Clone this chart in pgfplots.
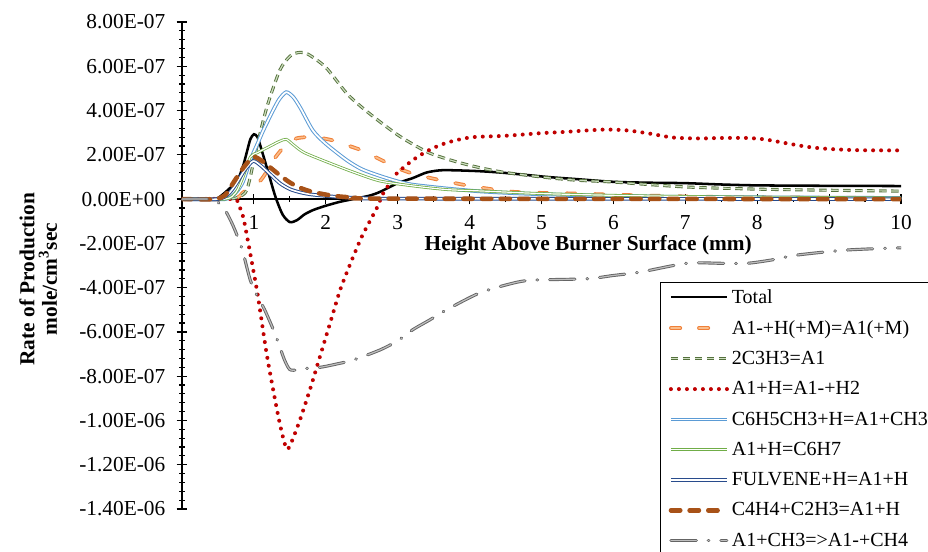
\documentclass[border=0pt]{standalone}
\usepackage{fontspec}
\setmainfont{Liberation Serif}
\usepackage{pgfplots}
\pgfplotsset{compat=1.18}

\definecolor{cTotal}{RGB}{0,0,0}
\definecolor{cOrange}{RGB}{240,128,56}
\definecolor{cOrangeIn}{RGB}{250,190,140}
\definecolor{cOlive}{RGB}{84,112,60}
\definecolor{cOliveIn}{RGB}{205,222,192}
\definecolor{cRed}{RGB}{192,0,0}
\definecolor{cLBlue}{RGB}{91,155,213}
\definecolor{cGreen}{RGB}{112,173,71}
\definecolor{cDBlue}{RGB}{40,75,140}
\definecolor{cBrown}{RGB}{168,82,24}
\definecolor{cGray}{RGB}{100,100,100}
\definecolor{cGrayIn}{RGB}{190,190,190}

\begin{document}
\begin{tikzpicture}
\begin{axis}[
  scale only axis,
  width=539.25pt, height=365.25pt,
  xmin=0, xmax=10, ymin=-1.4e-6, ymax=8e-7,
  axis x line=middle, axis y line=left,
  axis line style={line width=1.5pt,-},
  hide obscured x ticks=false, hide obscured y ticks=false,
  xtick={1,2,3,4,5,6,7,8,9,10},
  xticklabels={1,2,3,4,5,6,7,8,9,10},
  minor x tick num=1,
  ytick={-1.4e-6,-1.2e-6,-1e-6,-8e-7,-6e-7,-4e-7,-2e-7,0,2e-7,4e-7,6e-7,8e-7},
  yticklabels={-1.40E-06,-1.20E-06,-1.00E-06,-8.00E-07,-6.00E-07,-4.00E-07,-2.00E-07,0.00E+00,2.00E-07,4.00E-07,6.00E-07,8.00E-07},
  minor y tick num=4,
  scaled y ticks=false,
  tick align=center,
  major tick length=8pt, minor tick length=4pt,
  tick style={black, line width=0.9pt},
  xticklabel style={font=\fontsize{16}{19}\selectfont, yshift=-5pt},
  yticklabel style={font=\fontsize{16}{19}\selectfont, xshift=-5pt},
  xlabel={Height Above Burner Surface (mm)},
  xlabel style={at={(axis description cs:0.565,0.541)}, anchor=center,
    font=\bfseries\fontsize{16}{19}\selectfont},
  ylabel={Rate of Production\\mole/cm\textsuperscript{3}sec},
  ylabel style={at={(axis description cs:-0.2,0.472)}, anchor=center,
    rotate=0, align=center, font=\bfseries\fontsize{16}{17}\selectfont},
  legend cell align=left,
  legend style={at={(axis description cs:0.665,0.466)}, anchor=north west,
    draw=black, line width=0.8pt, fill=white,
    font=\fontsize{15}{18}\selectfont, row sep=7.3pt,
    inner xsep=6pt, inner ysep=3pt},
  legend image code/.code={\draw[#1] (0pt,0pt) -- (42pt,0pt);},
  every axis plot/.append style={smooth, tension=0.45},
]

% Total
\addplot[cTotal, line width=1.9pt] coordinates {
(0,0) (0.4,0) (0.5,0.05e-7) (0.6,0.3e-7) (0.7,0.6e-7) (0.78,0.9e-7) (0.85,1.5e-7)
(0.9,2.1e-7) (0.95,2.7e-7) (1.0,2.93e-7) (1.05,2.8e-7) (1.1,2.3e-7) (1.2,1.2e-7)
(1.3,0.1e-7) (1.4,-0.7e-7) (1.5,-1.04e-7) (1.6,-0.95e-7) (1.7,-0.7e-7) (1.82,-0.5e-7)
(2.0,-0.3e-7) (2.2,-0.12e-7) (2.38,0) (2.6,0.15e-7) (2.75,0.32e-7) (3.0,0.72e-7)
(3.21,0.95e-7) (3.4,1.2e-7) (3.59,1.3e-7) (3.8,1.3e-7) (4.14,1.26e-7) (4.5,1.18e-7)
(5.08,1.0e-7) (5.5,0.9e-7) (6.0,0.78e-7) (6.5,0.74e-7) (7.0,0.72e-7) (7.5,0.66e-7)
(8.0,0.62e-7) (9.0,0.6e-7) (10,0.59e-7)};
\addlegendentry{Total}

% A1-+H(+M)=A1(+M)
\addplot[cOrange, line width=0.8pt, double=cOrangeIn, double distance=1.2pt,
  line cap=round, dash pattern=on 7pt off 14pt] coordinates {
(0,0) (0.7,0) (0.85,0.3e-7) (0.95,0.55e-7) (1.08,0.8e-7) (1.17,1.2e-7) (1.27,1.76e-7)
(1.4,2.3e-7) (1.5,2.6e-7) (1.6,2.75e-7) (1.74,2.8e-7) (1.9,2.78e-7) (2.1,2.65e-7)
(2.29,2.44e-7) (2.5,2.2e-7) (2.75,1.8e-7) (3.0,1.4e-7) (3.21,1.15e-7) (3.5,0.92e-7)
(3.91,0.65e-7) (4.3,0.45e-7) (4.6,0.33e-7) (5.0,0.28e-7) (5.5,0.25e-7) (6.0,0.2e-7)
(7.0,0.12e-7) (8.0,0.08e-7) (10,0.05e-7)};
\addlegendentry{A1-+H(+M)=A1(+M)}

% 2C3H3=A1
\addplot[cOlive, line width=0.7pt, double=cOliveIn, double distance=0.9pt,
  dash pattern=on 5.5pt off 3.5pt] coordinates {
(0,0) (0.6,0) (0.75,0.05e-7) (0.85,0.2e-7) (0.9,0.4e-7) (0.95,1.0e-7) (1.04,2.35e-7)
(1.18,4.15e-7) (1.36,5.82e-7) (1.5,6.45e-7) (1.62,6.62e-7) (1.75,6.55e-7) (2.0,5.95e-7)
(2.29,4.78e-7) (2.5,4.15e-7) (2.75,3.5e-7) (3.0,2.9e-7) (3.2,2.5e-7) (3.45,2.07e-7)
(3.8,1.7e-7) (4.14,1.42e-7) (4.5,1.2e-7) (5.08,0.97e-7) (5.5,0.85e-7) (6.0,0.77e-7)
(7.0,0.55e-7) (8.0,0.45e-7) (9.0,0.4e-7) (10,0.36e-7)};
\addlegendentry{2C3H3=A1}

% A1+H=A1-+H2
\addplot[cRed, line width=3pt, line cap=round, dash pattern=on 0pt off 6pt] coordinates {
(0,0) (0.7,0) (0.78,-0.2e-7) (0.85,-0.8e-7) (0.9,-1.6e-7) (0.98,-3.0e-7) (1.06,-4.47e-7)
(1.18,-7.04e-7) (1.32,-9.5e-7) (1.4,-10.7e-7) (1.46,-11.3e-7) (1.52,-11.0e-7)
(1.64,-9.98e-7) (1.78,-8.6e-7) (1.92,-7.1e-7) (2.06,-5.6e-7) (2.2,-4.1e-7)
(2.35,-2.85e-7) (2.5,-1.7e-7) (2.62,-0.95e-7) (2.71,-0.4e-7) (2.8,0.27e-7)
(2.9,0.75e-7) (2.99,1.17e-7) (3.21,1.76e-7) (3.4,2.15e-7) (3.59,2.44e-7) (3.8,2.65e-7)
(4.05,2.8e-7) (4.5,2.86e-7) (5.0,2.98e-7) (5.3,3.03e-7) (5.86,3.14e-7) (6.2,3.1e-7)
(6.5,2.96e-7) (6.83,2.78e-7) (7.2,2.74e-7) (7.5,2.76e-7) (7.86,2.76e-7) (8.1,2.7e-7)
(8.41,2.52e-7) (8.7,2.36e-7) (8.97,2.27e-7) (9.4,2.21e-7) (10,2.2e-7)};
\addlegendentry{A1+H=A1-+H2}

% C6H5CH3+H=A1+CH3
\addplot[cLBlue, line width=0.75pt, double=white, double distance=1.3pt] coordinates {
(0,0) (0.6,0) (0.75,0.3e-7) (0.85,0.8e-7) (0.95,1.76e-7) (1.05,2.5e-7) (1.13,3.1e-7)
(1.25,3.9e-7) (1.35,4.5e-7) (1.45,4.83e-7) (1.55,4.6e-7) (1.65,4.1e-7) (1.82,3.1e-7)
(2.0,2.5e-7) (2.29,1.76e-7) (2.5,1.35e-7) (2.75,1.05e-7) (3.0,0.8e-7) (3.21,0.65e-7)
(3.68,0.48e-7) (4.14,0.35e-7) (4.6,0.27e-7) (5.0,0.22e-7) (6.0,0.14e-7) (7.0,0.1e-7)
(8.0,0.08e-7) (10,0.05e-7)};
\addlegendentry{C6H5CH3+H=A1+CH3}

% A1+H=C6H7
\addplot[cGreen, line width=0.6pt, double=white, double distance=0.9pt] coordinates {
(0,0) (0.6,0) (0.75,0.3e-7) (0.85,1.0e-7) (0.95,1.9e-7) (1.05,2.1e-7) (1.2,2.35e-7)
(1.35,2.6e-7) (1.45,2.7e-7) (1.55,2.45e-7) (1.7,2.1e-7) (2.06,1.62e-7) (2.4,1.2e-7)
(2.75,0.82e-7) (3.2,0.6e-7) (3.68,0.43e-7) (4.14,0.37e-7) (5.0,0.25e-7) (6.0,0.17e-7)
(7.0,0.12e-7) (8.0,0.09e-7) (10,0.05e-7)};
\addlegendentry{A1+H=C6H7}

% FULVENE+H=A1+H
\addplot[cDBlue, line width=0.75pt, double=white, double distance=1.2pt] coordinates {
(0,0) (0.5,0) (0.65,0.25e-7) (0.76,0.72e-7) (0.87,1.3e-7) (0.99,1.72e-7) (1.1,1.5e-7)
(1.2,1.2e-7) (1.36,0.72e-7) (1.5,0.45e-7) (1.65,0.3e-7) (1.82,0.2e-7) (2.2,0.09e-7)
(2.6,0.04e-7) (3,0.02e-7) (10,0)};
\addlegendentry{FULVENE+H=A1+H}

% C4H4+C2H3=A1+H
\addplot[cBrown, line width=3.4pt, line cap=round, dash pattern=on 7pt off 7pt] coordinates {
(0,0) (0.45,0) (0.6,0.18e-7) (0.71,0.72e-7) (0.85,1.4e-7) (0.99,1.9e-7) (1.1,1.75e-7)
(1.2,1.5e-7) (1.36,1.08e-7) (1.5,0.75e-7) (1.65,0.5e-7) (1.82,0.32e-7) (2.1,0.15e-7)
(2.4,0.07e-7) (3,0.02e-7) (10,0)};
\addlegendentry{C4H4+C2H3=A1+H}

% A1+CH3=>A1-+CH4
\addplot[cGray, line width=0.7pt, double=cGrayIn, double distance=0.9pt, line cap=round,
  dash pattern=on 19pt off 9pt on 0.5pt off 9pt] coordinates {
(0,0) (0.4,0) (0.5,-0.14e-7) (0.6,-0.5e-7) (0.71,-1.2e-7) (0.83,-2.2e-7) (0.95,-3.66e-7)
(1.05,-4.4e-7) (1.15,-5.0e-7) (1.29,-6.05e-7) (1.36,-6.68e-7) (1.43,-7.3e-7)
(1.5,-7.7e-7) (1.6,-7.72e-7) (1.68,-7.66e-7) (1.92,-7.6e-7) (2.15,-7.45e-7)
(2.38,-7.27e-7) (2.75,-6.82e-7) (3.0,-6.4e-7) (3.21,-5.9e-7) (3.45,-5.45e-7)
(3.68,-5.0e-7) (4.14,-4.24e-7) (4.6,-3.8e-7) (4.88,-3.66e-7) (5.63,-3.6e-7)
(6.0,-3.45e-7) (6.37,-3.3e-7) (7.02,-2.9e-7) (7.5,-2.9e-7) (7.86,-2.9e-7)
(8.2,-2.75e-7) (8.55,-2.53e-7) (9.25,-2.3e-7) (10,-2.2e-7)};
\addlegendentry{A1+CH3=>A1-+CH4}

\end{axis}
\pgfresetboundingbox
\path[use as bounding box] (-136.5pt,-31.5pt) rectangle (559.5pt,381.75pt);
\end{tikzpicture}
\end{document}
